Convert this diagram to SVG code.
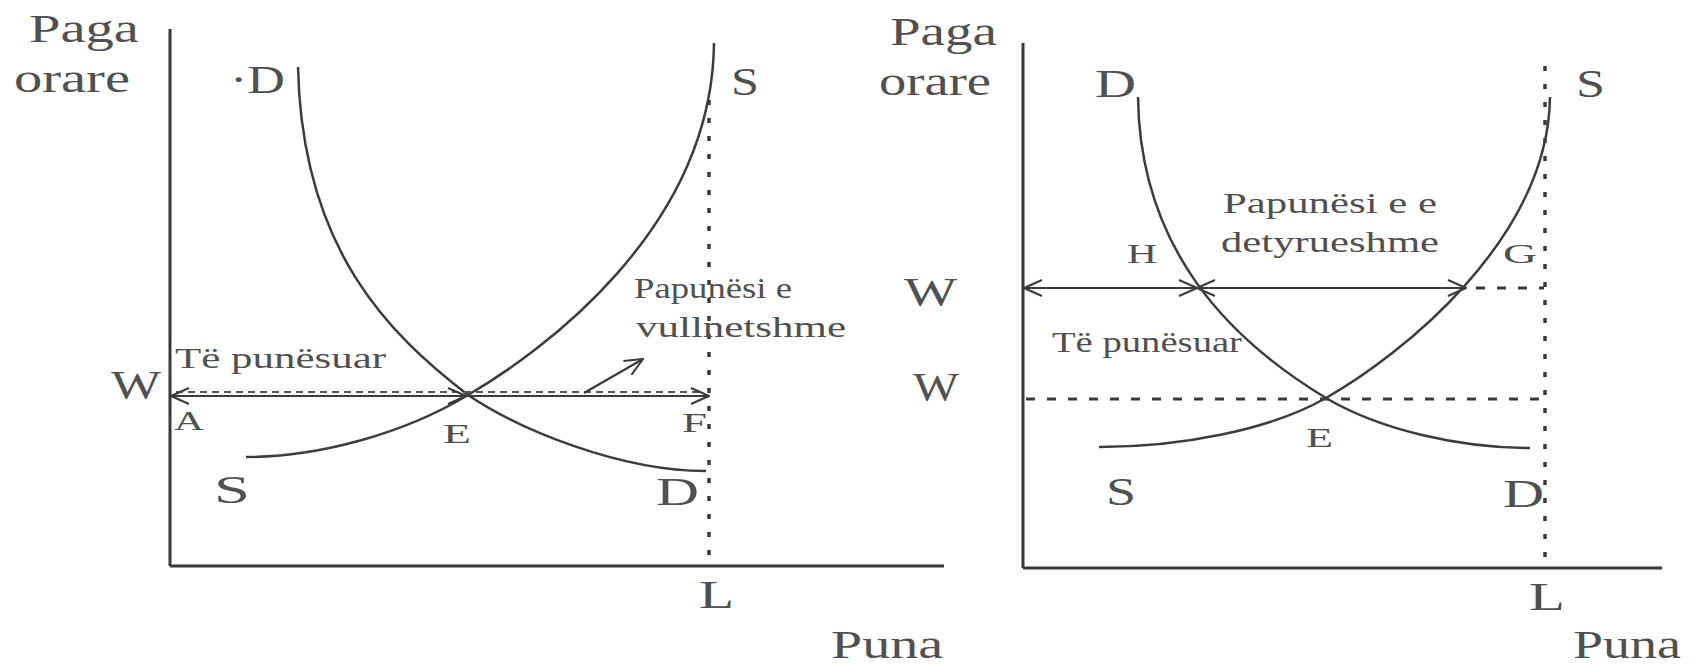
<svg xmlns="http://www.w3.org/2000/svg" width="1690" height="665" viewBox="0 0 1690 665">
<style>
text{font-family:"Liberation Serif","Times New Roman",serif;fill:#505050}
.big{font-size:40px}
.sm{font-size:28px}
.note{font-size:30px}
.axis{stroke:#383838;stroke-width:3;fill:none}
.curve{stroke:#3c3c3c;stroke-width:2.5;fill:none}
.dot{stroke:#3a3a3a;stroke-width:3.5;stroke-dasharray:5 13;fill:none}
.dash{stroke:#3a3a3a;stroke-width:3;stroke-dasharray:9 12;fill:none}
.fine{stroke:#555;stroke-width:2;stroke-dasharray:7 5;fill:none}
.arr{stroke:#3a3a3a;stroke-width:2.2;fill:none;marker-end:url(#ah)}
.arr2{stroke:#3a3a3a;stroke-width:2.2;fill:none;marker-start:url(#ah);marker-end:url(#ah)}
</style>
<defs>
<marker id="ah" viewBox="0 0 20 18" refX="19" refY="9" markerWidth="20" markerHeight="18" markerUnits="userSpaceOnUse" orient="auto-start-reverse">
<path d="M1,1 L19,9 L1,17" fill="none" stroke="#3a3a3a" stroke-width="2"/>
</marker>
</defs>
<rect width="1690" height="665" fill="#fff"/>

<g id="left-panel">
<g id="left-axes">
<line class="axis" x1="170" y1="29" x2="170" y2="566"/>
<line class="axis" x1="170" y1="566" x2="944" y2="566"/>
<line class="dot" x1="709" y1="100" x2="709" y2="566"/>
</g>
<g id="left-curves">
<path id="left-D" class="curve" d="M298,67 C302,250 390,335 468,395 C520,430 620,471 706,471"/>
<path id="left-S" class="curve" d="M246,457 C320,457 405,433 468,395 C540,353 712,230 714,43"/>
</g>
<g id="left-connectors">
<line class="fine" x1="176" y1="392" x2="704" y2="392"/>
<line class="arr2" x1="171" y1="396" x2="466" y2="396"/>
<line class="arr" x1="466" y1="396" x2="709" y2="396"/>
<line class="arr" x1="584" y1="393" x2="643" y2="359"/>
</g>
<g id="left-labels">
<text class="big" x="29" y="42" textLength="110" lengthAdjust="spacingAndGlyphs">Paga</text>
<text class="big" x="14" y="92" textLength="116" lengthAdjust="spacingAndGlyphs">orare</text>
<text class="big" x="230" y="93" textLength="55" lengthAdjust="spacingAndGlyphs">·D</text>
<text class="big" x="731" y="95" textLength="28" lengthAdjust="spacingAndGlyphs">S</text>
<text class="note" x="634" y="298" textLength="158" lengthAdjust="spacingAndGlyphs">Papunësi e</text>
<text class="note" x="636" y="337" textLength="210" lengthAdjust="spacingAndGlyphs">vullnetshme</text>
<text class="note" x="175" y="368" textLength="211" lengthAdjust="spacingAndGlyphs">Të punësuar</text>
<text class="big" x="111" y="398" textLength="50" lengthAdjust="spacingAndGlyphs">W</text>
<text class="sm" x="174" y="430" textLength="30" lengthAdjust="spacingAndGlyphs">A</text>
<text class="sm" x="443" y="443" textLength="28" lengthAdjust="spacingAndGlyphs">E</text>
<text class="sm" x="682" y="432" textLength="25" lengthAdjust="spacingAndGlyphs">F</text>
<text class="big" x="214" y="503" textLength="36" lengthAdjust="spacingAndGlyphs">S</text>
<text class="big" x="656" y="505" textLength="43" lengthAdjust="spacingAndGlyphs">D</text>
<text class="big" x="699" y="608" textLength="35" lengthAdjust="spacingAndGlyphs">L</text>
<text class="big" x="831" y="658" textLength="112" lengthAdjust="spacingAndGlyphs">Puna</text>
</g>
</g>

<g id="right-panel">
<g id="right-axes">
<line class="axis" x1="1023" y1="43" x2="1023" y2="568"/>
<line class="axis" x1="1023" y1="568" x2="1662" y2="568"/>
<line class="dot" x1="1545" y1="66" x2="1545" y2="568"/>
</g>
<g id="right-curves">
<path id="right-D" class="curve" d="M1138,97 C1140,250 1230,340 1326,398 C1380,430 1460,448 1530,448"/>
<path id="right-S" class="curve" d="M1099,447 C1180,447 1270,430 1326,398 C1400,356 1548,240 1550,97"/>
</g>
<g id="right-connectors">
<line class="dash" x1="1026" y1="399" x2="1544" y2="399"/>
<line class="arr2" x1="1024" y1="288" x2="1197" y2="288"/>
<line class="arr2" x1="1197" y1="288" x2="1466" y2="288"/>
<line class="dash" x1="1476" y1="288" x2="1544" y2="288"/>
</g>
<g id="right-labels">
<text class="big" x="890" y="45" textLength="107" lengthAdjust="spacingAndGlyphs">Paga</text>
<text class="big" x="879" y="95" textLength="112" lengthAdjust="spacingAndGlyphs">orare</text>
<text class="big" x="1095" y="97" textLength="41" lengthAdjust="spacingAndGlyphs">D</text>
<text class="big" x="1576" y="97" textLength="29" lengthAdjust="spacingAndGlyphs">S</text>
<text class="note" x="1223" y="213" textLength="214" lengthAdjust="spacingAndGlyphs">Papunësi e e</text>
<text class="note" x="1221" y="252" textLength="218" lengthAdjust="spacingAndGlyphs">detyrueshme</text>
<text class="sm" x="1127" y="263" textLength="30" lengthAdjust="spacingAndGlyphs">H</text>
<text class="sm" x="1503" y="263" textLength="34" lengthAdjust="spacingAndGlyphs">G</text>
<text class="big" x="904" y="305" textLength="53" lengthAdjust="spacingAndGlyphs">W</text>
<text class="note" x="1052" y="352" textLength="190" lengthAdjust="spacingAndGlyphs">Të punësuar</text>
<text class="big" x="913" y="400" textLength="46" lengthAdjust="spacingAndGlyphs">W</text>
<text class="sm" x="1306" y="447" textLength="27" lengthAdjust="spacingAndGlyphs">E</text>
<text class="big" x="1106" y="505" textLength="30" lengthAdjust="spacingAndGlyphs">S</text>
<text class="big" x="1503" y="507" textLength="41" lengthAdjust="spacingAndGlyphs">D</text>
<text class="big" x="1529" y="610" textLength="36" lengthAdjust="spacingAndGlyphs">L</text>
<text class="big" x="1573" y="658" textLength="108" lengthAdjust="spacingAndGlyphs">Puna</text>
</g>
</g>
</svg>
